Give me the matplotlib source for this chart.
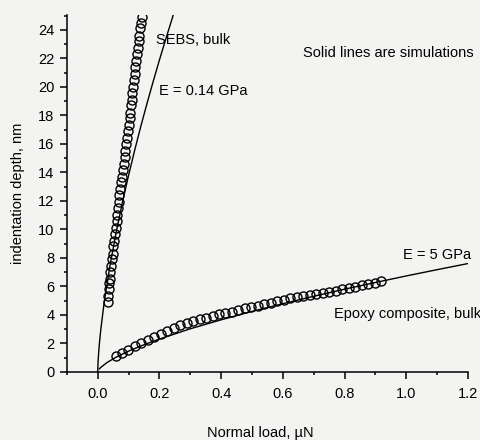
import matplotlib
matplotlib.use("Agg")
import matplotlib.pyplot as plt
from matplotlib.ticker import MultipleLocator

plt.rcParams['font.family'] = ['Liberation Sans', 'DejaVu Sans']

# SEBS, bulk - measured points (load in uN, depth in nm)
sebs_load = [0.032, 0.033, 0.035, 0.037, 0.039, 0.041, 0.044, 0.046, 0.049, 0.051,
             0.054, 0.056, 0.058, 0.061, 0.063, 0.066, 0.068, 0.070, 0.073, 0.076,
             0.078, 0.081, 0.084, 0.087, 0.090, 0.093, 0.095, 0.098, 0.100, 0.103,
             0.105, 0.108, 0.110, 0.112, 0.114, 0.117, 0.120, 0.122, 0.125, 0.128,
             0.130, 0.133, 0.135, 0.138, 0.140, 0.142]
sebs_depth = [4.9, 5.3, 5.8, 6.2, 6.5, 7.0, 7.4, 7.9, 8.3, 8.8,
              9.2, 9.7, 10.1, 10.6, 11.0, 11.5, 11.9, 12.4, 12.8, 13.3,
              13.7, 14.2, 14.6, 15.1, 15.5, 16.0, 16.4, 16.9, 17.3, 17.8,
              18.2, 18.7, 19.1, 19.6, 20.0, 20.5, 20.9, 21.4, 21.8, 22.3,
              22.7, 23.2, 23.6, 24.1, 24.5, 24.9]

# SEBS simulation, E = 0.14 GPa
sebs_sim_load = [0.0, 0.001, 0.003, 0.006, 0.01, 0.02, 0.04, 0.06, 0.08, 0.1,
                 0.12, 0.14, 0.16, 0.18, 0.2, 0.22, 0.245]
sebs_sim_depth = [0.0, 0.64, 1.33, 2.11, 2.97, 4.72, 7.49, 9.81, 11.89, 13.79,
                  15.57, 17.26, 18.86, 20.4, 21.89, 23.32, 25.06]

# Epoxy composite, bulk - measured points
epoxy_load = [0.058, 0.078, 0.099, 0.120, 0.141, 0.162, 0.183, 0.204, 0.225, 0.246,
              0.267, 0.288, 0.309, 0.330, 0.351, 0.372, 0.393, 0.414, 0.435, 0.456,
              0.477, 0.498, 0.519, 0.540, 0.561, 0.582, 0.603, 0.624, 0.645, 0.666,
              0.687, 0.708, 0.729, 0.750, 0.771, 0.792, 0.813, 0.834, 0.855, 0.876,
              0.897, 0.918]
epoxy_depth = [1.12, 1.35, 1.55, 1.78, 2.0, 2.25, 2.45, 2.65, 2.87, 3.07,
               3.3, 3.45, 3.58, 3.7, 3.8, 3.92, 4.03, 4.13, 4.22, 4.33,
               4.45, 4.55, 4.65, 4.75, 4.85, 4.95, 5.05, 5.15, 5.22, 5.3,
               5.38, 5.45, 5.52, 5.6, 5.68, 5.78, 5.88, 5.97, 6.06, 6.15,
               6.25, 6.35]

# Epoxy simulation, E = 5 GPa
epoxy_sim_load = [0.005, 0.01, 0.03, 0.06, 0.1, 0.15, 0.2, 0.3, 0.4, 0.5,
                  0.6, 0.7, 0.8, 0.9, 1.0, 1.1, 1.2]
epoxy_sim_depth = [0.2, 0.31, 0.65, 1.03, 1.45, 1.9, 2.30, 3.02, 3.65, 4.24,
                   4.78, 5.30, 5.80, 6.27, 6.73, 7.17, 7.6]

bg = '#f3f3f1'
fig = plt.figure(figsize=(4.81, 4.40), dpi=100, facecolor=bg)
ax = fig.add_axes([0.139, 0.155, 0.834, 0.811], facecolor=bg)

ax.plot(sebs_sim_load, sebs_sim_depth, color='black', lw=1.0)
ax.plot(epoxy_sim_load, epoxy_sim_depth, color='black', lw=1.0)
ax.plot(sebs_load, sebs_depth, 'o', ms=6.5, mfc='none', mec='black', mew=1.0)
ax.plot(epoxy_load, epoxy_depth, 'o', ms=6.5, mfc='none', mec='black', mew=1.0)

ax.set_xlim(-0.1, 1.2)
ax.set_ylim(0, 25.05)
ax.xaxis.set_major_locator(MultipleLocator(0.2))
ax.xaxis.set_minor_locator(MultipleLocator(0.1))
ax.yaxis.set_major_locator(MultipleLocator(2))
ax.yaxis.set_minor_locator(MultipleLocator(1))
ax.xaxis.set_major_formatter(matplotlib.ticker.FormatStrFormatter('%.1f'))

for side in ['top', 'right']:
    ax.spines[side].set_visible(False)
for side in ['left', 'bottom']:
    ax.spines[side].set_linewidth(1.1)

ax.tick_params(which='major', direction='out', length=5, width=1.1, labelsize=10.5, pad=4)
ax.tick_params(which='minor', direction='out', length=2.5, width=1.1)
ax.tick_params(axis='x', pad=6)

ax.set_xlabel('Normal load, µN', fontsize=10.5)
ax.xaxis.set_label_coords(0.482, -0.152)
ax.set_ylabel('indentation depth, nm', fontsize=10.5, labelpad=9)

ax.text(0.189, 23.3, 'SEBS, bulk', fontsize=10.5, va='center')
ax.text(0.2, 19.7, 'E = 0.14 GPa', fontsize=10.5, va='center')
ax.text(0.664, 22.4, 'Solid lines are simulations', fontsize=10.5, va='center')
ax.text(0.988, 8.2, 'E = 5 GPa', fontsize=10.5, va='center')
ax.text(0.765, 4.06, 'Epoxy composite, bulk', fontsize=10.5, va='center')

fig.savefig('out.png', dpi=100, facecolor=bg)
